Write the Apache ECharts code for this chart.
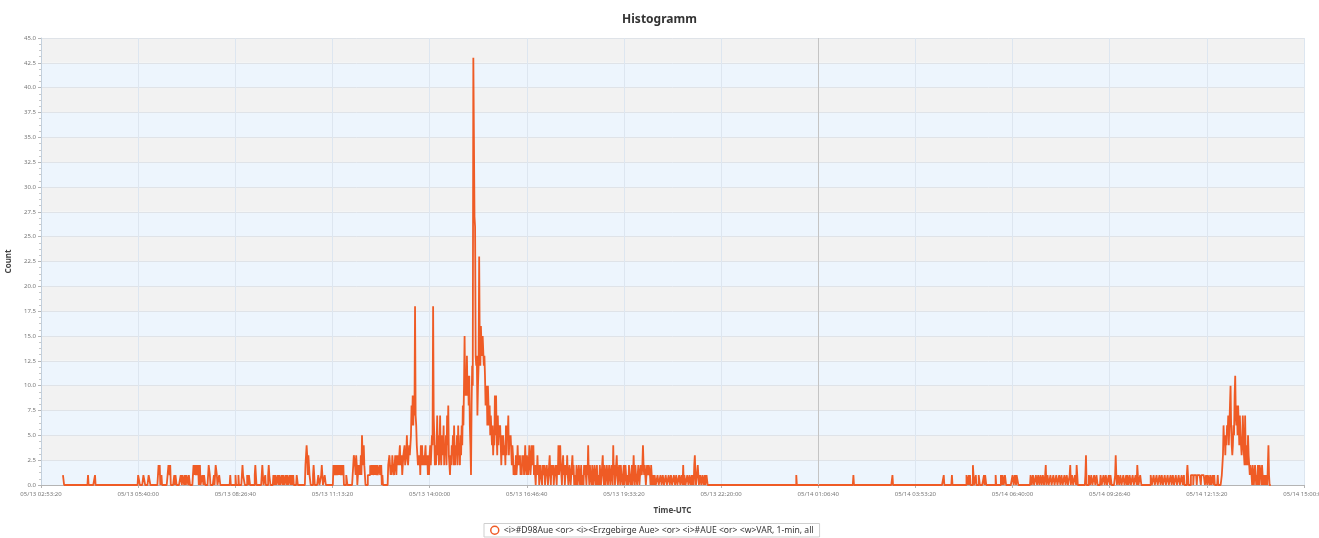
<!DOCTYPE html>
<html>
<head>
<meta charset="utf-8">
<title>Histogramm</title>
<script src="https://cdn.jsdelivr.net/npm/echarts@6/dist/echarts.min.js"></script>
<style>
  html, body { margin: 0; padding: 0; background: #ffffff; }
  #chart { width: 1319px; height: 538px; }
</style>
</head>
<body>
<div id="chart"></div>
<script>
// Series label as shown in the legend
const SERIES_NAME = '<i>#D98Aue <or> <i><Erzgebirge Aue> <or> <i>#AUE <or> <w>VAR, 1-min, all';

// Time frame (UTC)
const DAY_START_UTC = Date.UTC(2018, 4, 13);               // 05/13 00:00:00
const AXIS_START_UTC = Date.UTC(2018, 4, 13, 2, 53, 20);   // first tick
const AXIS_END_UTC = Date.UTC(2018, 4, 14, 15, 0, 0);      // last tick
const TICK_STEP_MS = 10000 * 1000;                          // 2h 46m 40s
const DIVIDER_UTC = Date.UTC(2018, 4, 14, 1, 6, 40);        // highlighted grid line

// Count axis
const COUNT_MAX = 45;
const COUNT_STEP = 2.5;

// 1-minute bins: each run starts at a minute (counted from 05/13 00:00 UTC)
// and lists the counts of consecutive minutes; minutes not listed are 0.
const runStartMinute = [
  211, 254, 266, 340, 349, 358, 375, 392, 402, 413, 435, 450, 461, 470, 473, 479,
  498, 507, 512, 518, 527, 540, 552, 558, 563, 572, 612, 627, 640, 649, 654, 660,
  675, 697, 706, 786, 1016, 1226,
  1469, 1567, 1634, 1722, 1736, 1761, 1777, 1782, 1791, 1811,
  1820, 1840, 1871, 1896, 1900, 1950, 1965, 1971, 1991, 2016, 2021, 2077, 2139,
  2146, 2172, 2192, 2199
];
const runCounts = [
  [1, 1], [1], [1], [1, 1, 1], [1, 1, 1], [1, 1, 1], [2, 1, 2, 0, 0, 1], [2, 2, 1, 2],
  [1, 0, 1, 1], [1, 1, 0, 1, 1, 1, 0, 1, 1, 0, 1, 1, 1, 0, 1, 1],
  [2, 1, 2, 2, 1, 2, 2, 1, 2, 0, 1, 2], [1, 1, 0, 1, 1], [2, 2, 1], [1], [2, 2, 1], [1, 1],
  [1], [1], [1], [1, 2, 1, 1, 1], [1, 1, 0, 1, 1], [1, 2, 1], [1, 2, 1], [1], [1, 2, 1, 1],
  [1, 1, 0, 1, 1, 0, 0, 1, 1, 0, 1, 1, 0, 0, 1, 1, 0, 1, 1, 0, 0, 1, 1, 0, 1, 1, 0, 0, 1, 1, 0, 1, 1, 0, 1],
  [1, 1], [2, 3, 4, 3, 1, 3, 2, 1, 1], [1, 2, 1], [1, 1], [1, 2, 1], [1, 1],
  [2, 2, 1, 2, 2, 1, 2, 2, 1, 2, 1, 2, 2, 1, 2, 1, 1, 2], [1, 1],
  // 706 - 785
  [0, 0, 0, 2, 3, 3, 2, 1, 3, 2,  0, 0, 2, 1, 2, 1, 3, 1, 5, 3,  2, 4, 2, 1, 0, 0, 0, 0, 1, 1,
   1, 1, 2, 1, 2, 1, 2, 1, 1, 2,  1, 2, 1, 1, 2, 1, 1, 1, 2, 1,  1, 2, 0, 1, 0, 0, 0, 0, 0, 0,
   0, 0, 0, 2, 2, 3, 2, 1, 2, 1,  3, 2, 2, 1, 2, 3, 2, 1, 3, 2],
  // 786 - 1015: main burst
  [3, 2, 2, 4, 2, 2, 3, 1, 1, 3,  3, 4, 2, 2, 3, 5, 3, 2, 2, 4,  3, 3, 5, 8, 6, 9, 6, 9, 7, 18,
   7, 6, 4, 4, 2, 3, 2, 3, 1, 4,  2, 4, 2, 3, 3, 2, 2, 4, 2, 2,  3, 1, 3, 1, 3, 4, 2, 2, 5, 4,
   18, 7, 5, 2, 4, 2, 4, 7, 3, 5,  2, 4, 7, 3, 2, 5, 4, 3, 6, 2,  4, 3, 5, 2, 7, 4, 8, 3, 2, 1,
   3, 2, 4, 3, 5, 2, 6, 3, 2, 4,  3, 5, 2, 6, 3, 4, 2, 5, 3, 6,  4, 8, 6, 10, 15, 9, 10, 9, 13, 9,
   11, 8, 11, 6, 4, 1, 8, 12, 10, 43,  43, 27, 26, 13, 12, 13, 7, 10, 12, 23,  14, 12, 16, 14, 13, 15, 15, 12, 13, 11,
   8, 9, 10, 6, 10, 8, 6, 8, 5, 7,  7, 4, 6, 3, 5, 4, 9, 5, 9, 5,  3, 7, 4, 6, 5, 6, 4, 2, 5, 3,
   5, 4, 3, 4, 2, 6, 3, 6, 5, 7,  3, 5, 4, 5, 5, 2, 4, 3, 1, 2,  2, 1, 3, 1, 2, 4, 2, 3, 2, 3,
   1, 2, 1, 3, 2, 3, 1, 2, 4, 2,  1, 3, 2, 1, 2, 4, 3, 1, 2, 4],
  // 1016 - 1225
  [4, 2, 4, 1, 2, 1, 0, 2, 1, 3,  1, 2, 0, 1, 2, 1, 1, 0, 2, 1,  1, 2, 0, 1, 1, 2, 1, 0, 1, 2,
   3, 1, 0, 2, 1, 1, 2, 0, 1, 1,  2, 1, 0, 2, 1, 4, 1, 2, 4, 2,  1, 0, 2, 3, 1, 2, 0, 1, 2, 1,
   3, 1, 0, 1, 2, 1, 0, 1, 2, 3,  1, 2, 0, 1, 1, 0, 2, 1, 0, 1,  2, 1, 0, 1, 2, 0, 1, 1, 0, 2,
   1, 2, 1, 0, 2, 1, 4, 1, 0, 2,  1, 1, 0, 2, 1, 0, 1, 2, 1, 0,  1, 2, 0, 1, 1, 0, 2, 1, 0, 1,
   2, 3, 1, 0, 2, 1, 0, 1, 2, 1,  0, 1, 2, 1, 0, 1, 2, 1, 0, 4,  1, 2, 0, 1, 2, 3, 1, 0, 1, 2,
   1, 0, 2, 1, 1, 0, 1, 2, 0, 1,  2, 1, 0, 1, 1, 0, 2, 1, 1, 0,  1, 2, 0, 1, 3, 1, 0, 2, 1, 1,
   0, 1, 2, 1, 0, 1, 2, 2, 1, 2,  4, 2, 1, 2, 2, 0, 1, 2, 2, 1,  2, 2, 1, 0, 2, 1, 0, 1, 1, 0],
  // 1226 - 1318
  [1, 1, 0, 0, 0, 1, 1, 0, 0, 0,  1, 1, 0, 0, 1, 1, 0, 0, 0, 1,  1, 0, 0, 0, 1, 1, 0, 0, 1, 1,
   0, 0, 0, 1, 1, 0, 0, 1, 1, 0,  0, 0, 1, 1, 0, 0, 1, 1, 0, 2,  0, 1, 1, 0, 0, 0, 1, 1, 0, 0,
   1, 1, 0, 0, 1, 0, 1, 0, 2, 3,  1, 0, 0, 0, 2, 1, 0, 0, 1, 1,  0, 0, 1, 1, 0, 0, 1, 0, 0, 1,
   1, 0, 0],
  // 05/14
  [1], [1], [1], [1], [1], [1, 1, 0, 0, 1, 0, 1, 0, 0, 0, 0, 2, 1], [1], [1, 1], [1, 0, 1, 1], [1],
  [1, 1, 0, 1, 1, 0, 0, 1, 1],
  [1, 1, 0, 0, 1, 1, 0, 1, 1, 1],
  [1, 1, 0, 0, 1, 1, 0, 0, 0, 1, 1, 0, 0, 1, 1, 0, 0, 1, 1, 0, 0, 1, 1],
  [1, 2],
  [1, 1, 0, 0, 0, 1, 1, 0, 0, 0, 1, 1, 0, 0, 0, 1, 1, 0, 0, 0, 1, 1, 0, 0, 1, 1, 0, 0, 0, 1,
   1, 0, 0, 1, 1, 0, 0, 0, 1, 2, 0, 0, 1, 1, 0, 0, 0, 1, 1],
  [2, 1], [1, 3],
  [1, 1, 0, 0, 1, 1, 0, 0, 0, 1, 1, 0, 0, 1, 1],
  [1, 1, 0, 0, 0, 1, 1, 0, 0, 1, 1, 0, 0, 0, 1, 1, 0, 1, 1],
  [1, 3, 1],
  [1, 1, 0, 0, 1, 1, 0, 0, 0, 1, 1, 0, 0, 0, 1, 0, 1, 1, 0, 0, 1, 1, 0, 0, 0, 1, 1, 0, 0, 0,
   1, 1, 0, 2, 1, 0, 0, 0, 1, 1],
  [1, 1, 0, 0, 0, 1, 1, 0, 0, 0, 1, 1, 0, 0, 0, 1, 1, 0, 0, 1, 1, 0, 0, 0, 1, 1, 0, 0, 0, 1,
   1, 0, 0, 0, 1, 1, 0, 0, 1, 1, 0, 0, 0, 1, 1, 0, 0, 0, 1, 1, 0, 0, 0, 1, 1, 0, 0, 1],
  [1, 2, 1],
  [1, 1, 1, 1, 0, 1, 1, 1, 1, 1, 0, 1, 1, 1, 1, 1, 1, 0, 1, 1, 1, 1, 1, 1],
  [1, 1, 0, 1, 1, 1, 0, 1, 1, 0, 0, 1, 1, 0, 1],
  [1],
  // 2199 - 2282: second burst
  [1, 2, 3, 6, 4, 5, 3, 5, 4, 6,  5, 7, 4, 6, 8, 10, 6, 4, 3, 4,  6, 5, 9, 11, 7, 6, 8, 5, 8, 6,
   4, 7, 5, 4, 3, 4, 7, 5, 3, 2,  7, 3, 2, 4, 2, 5, 3, 2, 1, 2,  2, 1, 0, 2, 2, 0, 1, 2, 1, 0,
   1, 0, 2, 1, 0, 2, 2, 1, 0, 2,  2, 0, 1, 0, 1, 0, 0, 1, 0, 0,  4, 1, 0, 0]
];

// Expand the runs into a continuous per-minute series
const firstMinute = Math.min(...runStartMinute);
let lastMinute = firstMinute;
runStartMinute.forEach((s, i) => { lastMinute = Math.max(lastMinute, s + runCounts[i].length - 1); });
const perMinute = new Array(lastMinute - firstMinute + 1).fill(0);
runStartMinute.forEach((s, i) => {
  runCounts[i].forEach((c, j) => { perMinute[s + j - firstMinute] = c; });
});
const lineData = perMinute.map((c, i) => [DAY_START_UTC + (firstMinute + i) * 60000, c]);
lineData.push([DAY_START_UTC + (lastMinute + 1) * 60000, 0]);

const pad = n => String(n).padStart(2, '0');
function timeLabel(v) {
  const d = new Date(v);
  return pad(d.getUTCMonth() + 1) + '/' + pad(d.getUTCDate()) + ' ' +
         pad(d.getUTCHours()) + ':' + pad(d.getUTCMinutes()) + ':' + pad(d.getUTCSeconds());
}

const LINE_COLOR = '#EF5B25';
const FONT = '"Noto Sans", "Open Sans", sans-serif';

const chart = echarts.init(document.getElementById('chart'), null, { renderer: 'canvas' });
chart.setOption({
  animation: false,
  backgroundColor: '#ffffff',
  textStyle: { fontFamily: FONT },
  title: {
    text: 'Histogramm',
    left: 'center',
    top: 9,
    textStyle: { fontSize: 12, fontWeight: 'bold', color: '#333333', fontFamily: FONT }
  },
  grid: { left: 41, right: 15, top: 38, bottom: 53, containLabel: false, outerBoundsMode: 'none' },
  xAxis: {
    type: 'value',
    min: AXIS_START_UTC,
    max: AXIS_END_UTC,
    interval: TICK_STEP_MS,
    name: 'Time-UTC',
    nameLocation: 'middle',
    nameGap: 22,
    nameTextStyle: { fontSize: 8, fontWeight: 'bold', color: '#444444', fontFamily: FONT },
    axisLine: { show: true, lineStyle: { color: '#b4b4b4', width: 1 } },
    axisTick: { show: true, length: 3, lineStyle: { color: '#b4b4b4' } },
    axisLabel: {
      fontSize: 6, color: '#777777', margin: 6,
      showMinLabel: true, showMaxLabel: true, hideOverlap: false,
      formatter: timeLabel
    },
    splitLine: { show: true, lineStyle: { color: '#dde6f0', width: 1 } }
  },
  yAxis: {
    type: 'value',
    min: 0,
    max: COUNT_MAX,
    interval: COUNT_STEP,
    name: 'Count',
    nameLocation: 'middle',
    nameRotate: 90,
    nameGap: 24,
    nameTextStyle: { fontSize: 8, fontWeight: 'bold', color: '#444444', fontFamily: FONT },
    axisLine: { show: true, lineStyle: { color: '#c3d0dd' } },
    axisTick: { show: true, length: 3, lineStyle: { color: '#b4b4b4' } },
    minorTick: { show: true, splitNumber: 4, length: 2, lineStyle: { color: '#c8c8c8' } },
    axisLabel: { fontSize: 6, color: '#777777', margin: 5, formatter: v => v.toFixed(1) },
    splitLine: { show: true, lineStyle: { color: '#dfe3e8', width: 1 } },
    splitArea: { show: true, areaStyle: { color: ['#edf5fd', '#f2f2f2'] } }
  },
  legend: {
    bottom: 1,
    left: 484,
    padding: [2, 6],
    borderColor: '#cfcfcf',
    borderWidth: 1,
    itemWidth: 8,
    itemHeight: 8,
    itemGap: 5,
    textStyle: { fontSize: 8.6, color: '#333333', fontFamily: FONT },
    data: [{
      name: SERIES_NAME,
      icon: 'circle',
      itemStyle: { color: '#ffffff', borderColor: LINE_COLOR, borderWidth: 1.5 }
    }]
  },
  series: [{
    type: 'line',
    name: SERIES_NAME,
    data: lineData,
    step: 'end',
    symbol: 'none',
    showSymbol: false,
    lineStyle: { color: LINE_COLOR, width: 1.8 },
    itemStyle: { color: LINE_COLOR },
    markLine: {
      silent: true,
      symbol: ['none', 'none'],
      label: { show: false },
      lineStyle: { color: '#c4c4c4', width: 1, type: 'solid' },
      data: [{ xAxis: DIVIDER_UTC }]
    }
  }]
});
</script>
</body>
</html>
